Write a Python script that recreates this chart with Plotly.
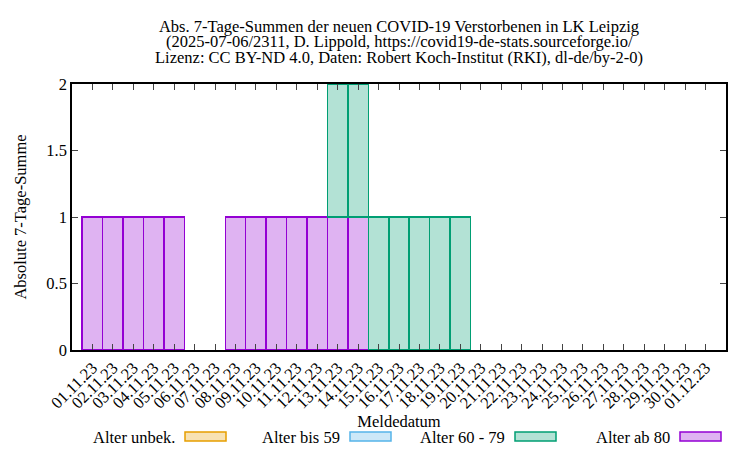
import plotly.graph_objects as go

# Meldedatum 01.11.23 .. 01.12.23
datum = ["01.11.23", "02.11.23", "03.11.23", "04.11.23", "05.11.23", "06.11.23",
         "07.11.23", "08.11.23", "09.11.23", "10.11.23", "11.11.23", "12.11.23",
         "13.11.23", "14.11.23", "15.11.23", "16.11.23", "17.11.23", "18.11.23",
         "19.11.23", "20.11.23", "21.11.23", "22.11.23", "23.11.23", "24.11.23",
         "25.11.23", "26.11.23", "27.11.23", "28.11.23", "29.11.23", "30.11.23",
         "01.12.23"]

alter_unbek = [0] * 31
alter_bis59 = [0] * 31
alter_60_79 = [0, 0, 0, 0, 0, 0, 0, 0, 0, 0, 0, 0, 1, 1, 1, 1, 1, 1, 1,
               0, 0, 0, 0, 0, 0, 0, 0, 0, 0, 0, 0]
alter_ab80 = [1, 1, 1, 1, 1, 0, 0, 1, 1, 1, 1, 1, 1, 1, 0, 0, 0, 0, 0,
              0, 0, 0, 0, 0, 0, 0, 0, 0, 0, 0, 0]

y_ticks = [0, 0.5, 1, 1.5, 2]

titel = ["Abs. 7-Tage-Summen der neuen COVID-19 Verstorbenen in LK Leipzig",
         "(2025-07-06/2311, D. Lippold, https://covid19-de-stats.sourceforge.io/",
         "Lizenz: CC BY-ND 4.0, Daten: Robert Koch-Institut (RKI), dl-de/by-2-0)"]

# (Name, Werte, Linienfarbe, Füllfarbe) - unterste Serie zuerst
serien = [
    ("Alter ab 80", alter_ab80, "#9400D3", "#DFB3F2"),
    ("Alter 60 - 79", alter_60_79, "#009E73", "#B3E2D5"),
    ("Alter bis 59", alter_bis59, "#56B4E9", "#CCE8F8"),
    ("Alter unbek.", alter_unbek, "#E69F00", "#F8E2B3"),
]

# Seite hat 8px body-Rand -> Figur etwas kleiner
OFF = 8
W, H = 742, 442
ML, MR, MT, MB = 64, 24, 76, 100
FONT = "Liberation Serif, Times New Roman, serif"
FS = 16.5

xs = list(range(len(datum)))
fig = go.Figure()
for name, werte, lc, fc in serien:
    fig.add_trace(go.Bar(x=xs, y=[v if v else None for v in werte], name=name, width=1,
                         marker=dict(color=fc, line=dict(color=lc, width=1.5)),
                         showlegend=False))

pw, ph = W - ML - MR, H - MT - MB
def px_x(p):
    return (p - OFF - ML) / pw
def px_y(p):
    return (H - MB - (p - OFF)) / ph

fig.update_layout(
    width=W, height=H, template=None, barmode="stack",
    plot_bgcolor="white", paper_bgcolor="white",
    margin=dict(l=ML, r=MR, t=MT, b=MB),
    font=dict(family=FONT, size=FS, color="black"),
    title=dict(text=titel[0], x=px_x(399), xref="paper", xanchor="center",
               y=1 - (26.5 - OFF) / H, yref="container", yanchor="middle",
               font=dict(family=FONT, size=FS)),
)
for zeile, yp in zip(titel[1:], [42, 57.5]):
    fig.add_annotation(text=zeile, x=px_x(399), y=px_y(yp), xref="paper", yref="paper",
                       xanchor="center", yanchor="middle", showarrow=False,
                       font=dict(family=FONT, size=FS))

fig.update_xaxes(range=[-1, 31], tickmode="array", tickvals=xs, ticktext=datum,
                 tickangle=-45, tickfont=dict(family=FONT, size=FS), ticks="inside", ticklen=6,
                 mirror="ticks", showline=True, linecolor="black", linewidth=1.5,
                 showgrid=False, zeroline=False,
                 title=dict(text="Meldedatum", standoff=0, font=dict(family=FONT, size=FS)))
fig.update_yaxes(range=[0, 2], tickmode="array", tickvals=y_ticks,
                 ticktext=[str(v) for v in y_ticks], ticks="inside", ticklen=6,
                 tickfont=dict(family=FONT, size=FS),
                 mirror="ticks", showline=True, linecolor="black", linewidth=1.5,
                 showgrid=False, zeroline=False,
                 title=dict(text="Absolute 7-Tage-Summe", standoff=16,
                            font=dict(family=FONT, size=FS)))

# Legende im gnuplot-Stil: Text links, Kästchen rechts
leg_text_end = [177, 342, 507, 672]
for (name, werte, lc, fc), xe in zip(reversed(serien), leg_text_end):
    fig.add_annotation(text=name, x=px_x(xe), y=px_y(437), xref="paper", yref="paper",
                       xanchor="right", yanchor="middle", showarrow=False,
                       font=dict(family=FONT, size=FS))
    fig.add_shape(type="rect", xref="paper", yref="paper",
                  x0=px_x(xe + 8), x1=px_x(xe + 49), y0=px_y(432), y1=px_y(441),
                  fillcolor=fc, line=dict(color=lc, width=1.5))

fig.write_html("out.html")
